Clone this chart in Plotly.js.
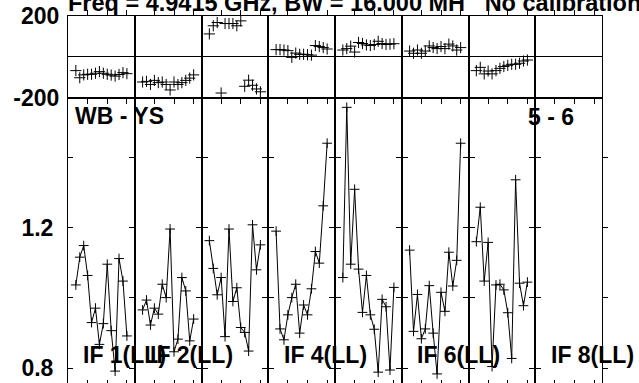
<!DOCTYPE html>
<html><head><meta charset="utf-8">
<script src="https://cdn.plot.ly/plotly-3.0.1.min.js"></script>
<style>html,body{margin:0;padding:0;overflow:hidden;background:#fff}#chart{width:639px;height:390px}</style>
</head><body><div id="chart"></div>
<script>
// channel numbers plotted in every IF
const channels = [2, 3, 4, 5, 6, 7, 8, 9, 10, 11, 12, 13, 14, 15];

// phase (degrees) per IF
const phaseIF1 = [-68, -103, -89, -86, -86, -81, -73, -81, -86, -90, -95, -87, -78, -83];
const phaseIF2 = [-124, -121, -136, -116, -127, -124, -136, -163, -124, -136, -127, -116, -105, -89];
const phaseIF3 = [112, 152, 168, -178, 163, 163, 163, 152, 176, -145, -115, -140, -158, -172];
const phaseIF4 = [35, 35, 33, 30, -3, 18, 12, 12, 10, 8, 55, 50, 45, 38];
const phaseIF5 = [33, 40, 52, 23, 70, 65, 58, 55, 60, 76, 65, 60, 62, 64];
const phaseIF6 = [28, 17, 33, 17, 28, 53, 45, 40, 50, 40, 62, 53, 33, 45];
const phaseIF7 = [-68, -52, -84, -70, -84, -68, -57, -48, -42, -37, -37, -32, -21, -16];
const phaseIF8 = [];

// amplitude per IF
const ampIF1 = [1.037, 1.116, 1.149, 1.064, 0.930, 0.971, 0.868, 0.927, 1.096, 0.907, 0.792, 1.112, 1.048, 0.892];
const ampIF2 = [0.966, 0.994, 0.923, 0.971, 0.954, 1.039, 1.001, 1.196, 0.847, 0.883, 1.058, 1.020, 0.878, 0.940];
const ampIF3 = [1.163, 1.084, 1.009, 1.058, 0.890, 1.196, 0.990, 1.029, 0.916, 0.902, 0.849, 1.208, 1.080, 1.151];
const ampIF4 = [1.190, 0.912, 0.881, 0.952, 1.001, 1.039, 0.900, 0.980, 0.952, 1.026, 1.132, 1.099, 1.262, 1.440];
const ampIF5 = [1.058, 1.542, 1.096, 1.309, 1.082, 0.959, 1.064, 0.952, 0.911, 0.789, 0.996, 0.975, 0.795, 1.030];
const ampIF6 = [1.136, 0.905, 1.010, 0.884, 0.912, 1.035, 0.900, 0.784, 1.016, 0.962, 1.130, 1.034, 1.107, 1.440];
const ampIF7 = [1.160, 1.258, 1.048, 1.158, 0.805, 1.037, 1.039, 1.023, 0.958, 0.828, 1.336, 1.042, 0.978, 1.045];
const ampIF8 = [];

// labels
const ifLabels = ['IF 1(LL)', 'IF 2(LL)', '', 'IF 4(LL)', '', 'IF 6(LL)', '', 'IF 8(LL)'];
const baselineLabel = 'WB - YS';
const pairLabel = '5 - 6';
const titleText = 'Freq = 4.9415 GHz, BW = 16.000 MH\u00a0\u00a0 No calibration';
const phaseTickVals = [-200, 0, 200];
const phaseTickText = ['-200', '', '200'];
const ampTickVals = [0.8, 1.0, 1.2, 1.4];
const ampTickText = ['0.8', '', '1.2', ''];

const phases = [phaseIF1, phaseIF2, phaseIF3, phaseIF4, phaseIF5, phaseIF6, phaseIF7, phaseIF8];
const amps = [ampIF1, ampIF2, ampIF3, ampIF4, ampIF5, ampIF6, ampIF7, ampIF8];

const FONT = 'Liberation Sans, Arial, Helvetica, sans-serif';
const nIF = phases.length;
const traces = [];
const layout = {
  width: 639, height: 390,
  margin: {l: 68, r: 37, t: 16, b: 5, pad: 0},
  paper_bgcolor: '#fff', plot_bgcolor: '#fff',
  showlegend: false,
  font: {family: FONT, color: '#000'},
  title: {
    text: titleText, x: 0, xref: 'paper', xanchor: 'left',
    y: 1 - 11 / 390, yref: 'container', yanchor: 'bottom', pad: {b: 0, t: 0, l: 0, r: 0},
    font: {family: FONT, size: 23.5, weight: 700, color: '#000'}
  },
  annotations: []
};

const splitFrac = 287.5 / 369;

for (let k = 0; k < nIF; k++) {
  const xid = k === 0 ? 'x' : 'x' + (k + 1);
  const xkey = k === 0 ? 'xaxis' : 'xaxis' + (k + 1);
  const hasData = phases[k].length > 0;
  traces.push({
    x: hasData ? channels : [], y: phases[k], xaxis: xid, yaxis: 'y',
    mode: 'markers', type: 'scatter', cliponaxis: false,
    marker: {symbol: 'cross-thin', size: 8, line: {width: 1, color: '#000'}, color: '#000'}
  });
  traces.push({
    x: amps[k].length ? channels : [], y: amps[k], xaxis: xid, yaxis: 'y2',
    mode: 'lines+markers', type: 'scatter', cliponaxis: false,
    line: {width: 1, color: '#000'},
    marker: {symbol: 'cross-thin', size: 7, line: {width: 1, color: '#000'}, color: '#000'}
  });
  layout[xkey] = {
    domain: [k / nIF, (k + 1) / nIF], range: [0, 17], anchor: 'y2',
    tickmode: 'array', tickvals: [5, 10, 15], ticks: 'inside', ticklen: 5, tickwidth: 1, tickcolor: '#000',
    showticklabels: false, showline: true, linecolor: '#000', linewidth: 1, mirror: 'allticks',
    showgrid: false, zeroline: false, fixedrange: true
  };
  if (ifLabels[k]) {
    layout.annotations.push({
      text: ifLabels[k], xref: xid + ' domain', yref: 'y2 domain',
      x: 0.2, y: 0.104, xanchor: 'left', yanchor: 'middle', showarrow: false,
      font: {family: FONT, size: 23, weight: 700, color: '#000'}
    });
  }
}

layout.yaxis = {
  domain: [splitFrac, 1], range: [-200, 200], anchor: 'x',
  tickmode: 'array', tickvals: phaseTickVals, ticktext: phaseTickText, ticks: '',
  ticklabelstandoff: 3,
  tickfont: {family: FONT, size: 23, weight: 700, color: '#000'},
  showline: true, linecolor: '#000', linewidth: 1, mirror: 'all',
  showgrid: false, zeroline: true, zerolinecolor: '#000', zerolinewidth: 1, fixedrange: true
};
layout.yaxis2 = {
  domain: [0, splitFrac], range: [0.7525, 1.570], anchor: 'x',
  tickmode: 'array', tickvals: ampTickVals, ticktext: ampTickText, ticks: 'inside', ticklen: 5, tickwidth: 1, tickcolor: '#000',
  ticklabelstandoff: 9,
  tickfont: {family: FONT, size: 23, weight: 700, color: '#000'},
  showline: true, linecolor: '#000', linewidth: 1, mirror: 'allticks',
  showgrid: false, zeroline: false, fixedrange: true
};

layout.annotations.push({
  text: baselineLabel, xref: 'x domain', yref: 'y2 domain', x: 0.075, y: 0.936,
  xanchor: 'left', yanchor: 'middle', showarrow: false,
  font: {family: FONT, size: 23, weight: 700, color: '#000'}
});
layout.annotations.push({
  text: pairLabel, xref: 'paper', yref: 'y2 domain', x: (527.7 - 70) / 534, y: 0.931,
  xanchor: 'left', yanchor: 'middle', showarrow: false,
  font: {family: FONT, size: 23, weight: 700, color: '#000'}
});

Plotly.newPlot('chart', traces, layout, {staticPlot: true, displayModeBar: false});
</script></body></html>
